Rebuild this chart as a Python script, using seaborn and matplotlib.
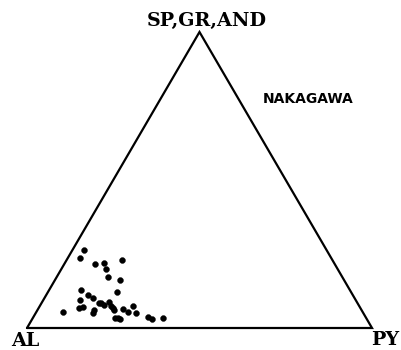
import numpy as np
import pandas as pd
import matplotlib
matplotlib.use("Agg")
import matplotlib.pyplot as plt
import seaborn as sns

# End-member labels of the ternary diagram
apex_labels = ["AL", "PY", "SP,GR,AND"]
locality = "NAKAGAWA"

# Garnet compositions (mol %): pyrope and spessartine+grossular+andradite;
# almandine is the remainder.
py_pct = [3.3, 3.4, 8.8, 11.3, 13.0, 16.1, 15.0, 18.9, 9.2, 12.0, 13.9, 20.2,
          10.7, 16.6, 17.2, 19.4, 20.6, 21.5, 22.2, 11.8, 12.6, 16.4, 16.6,
          7.6, 24.8, 26.5, 27.0, 29.0, 23.8, 25.5, 33.3, 34.8, 37.8, 18.6, 24.6]
sp_pct = [26.3, 23.8, 21.6, 22.0, 19.9, 22.9, 17.1, 16.2, 12.8, 11.1, 10.2, 12.0,
          9.3, 8.5, 8.3, 8.9, 7.4, 6.6, 6.1, 6.6, 7.0, 6.1, 5.2,
          5.5, 6.3, 5.5, 7.4, 5.0, 3.3, 3.0, 3.6, 3.1, 3.4, 7.7, 3.3]

df = pd.DataFrame({"PY": py_pct, "SP": sp_pct})
df["AL"] = 100 - df["PY"] - df["SP"]

# Ternary -> Cartesian (AL at origin, PY at (1, 0), SP at the apex)
H = np.sqrt(3) / 2
df["x"] = df["PY"] / 100 + 0.5 * df["SP"] / 100
df["y"] = H * df["SP"] / 100

sns.set_style("white")

fig = plt.figure(figsize=(4.02, 3.50), dpi=100)
ax = fig.add_axes([0, 0, 1, 1])

# Triangle frame
tri_x = [0, 1, 0.5, 0]
tri_y = [0, 0, H, 0]
ax.plot(tri_x, tri_y, color="black", lw=1.6, solid_joinstyle="miter")

sns.scatterplot(data=df, x="x", y="y", ax=ax, color="black", s=18,
                edgecolor="black", linewidth=0.3, legend=False)

# Axis extent in triangle units
sx = 345.0
sy = 296.0 / H
ax.set_xlim(-27 / sx, (402 - 27) / sx)
ax.set_ylim((328 - 350) / sy, 328 / sy)
ax.set_axis_off()

def px(xp, yp):
    return (xp - 27) / sx, (328 - yp) / sy

serif = dict(family=["DejaVu Serif"], weight="bold", fontsize=13.8, color="black")
ax.text(*px(207, 21), apex_labels[2], ha="center", va="center", **serif)
ax.text(*px(25, 341), apex_labels[0], ha="center", va="center", **serif)
ax.text(*px(385, 340), apex_labels[1], ha="center", va="center", **serif)

ax.text(*px(308, 99), locality, ha="center", va="center",
        family=["DejaVu Sans"], weight="bold",
        fontsize=10, color="black")

fig.savefig("out.png", dpi=100, facecolor="white")
